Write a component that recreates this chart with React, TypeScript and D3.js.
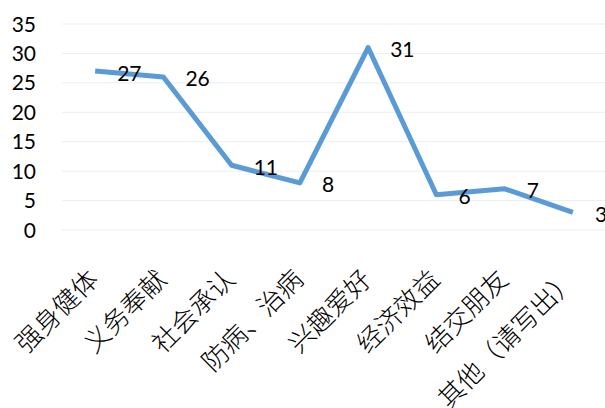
import React from 'react';
import * as d3 from 'd3';

const categories = ['强身健体', '义务奉献', '社会承认', '防病、治病', '兴趣爱好', '经济效益', '结交朋友', '其他（请写出）'];
const counts = [27, 26, 11, 8, 31, 6, 7, 3];
const yTicks = [0, 5, 10, 15, 20, 25, 30, 35];

const width = 605;
const height = 408;

const App = () => {
    const x = d3.scalePoint<string>()
        .domain(categories)
        .range([61, 607])
        .padding(0.5);
    const y = d3.scaleLinear()
        .domain([0, 35])
        .range([230, 24]);

    const line = d3.line<number>()
        .x((d, i) => x(categories[i])!)
        .y(d => y(d));

    const numFont = 'Lato, "Liberation Sans", sans-serif';

    return (
        <div style={{position: 'fixed', left: 0, top: 0}}>
            <svg width={width} height={height} style={{display: 'block', background: '#fff'}}>
                {/* grid lines */}
                <g>
                    {yTicks.map(t => (
                        <line key={t} x1={62} x2={width} y1={y(t)} y2={y(t)} stroke="#ededed" strokeWidth={1}/>
                    ))}
                </g>
                {/* y tick labels */}
                <g fontFamily={numFont} fontSize={21} fill="#000" textAnchor="end">
                    {yTicks.map(t => (
                        <text key={t} x={36} y={y(t)} dy="0.36em">{t}</text>
                    ))}
                </g>
                {/* x labels, rotated */}
                <g fontFamily='"Noto Sans CJK SC", sans-serif' fontSize={26} fontWeight={300} fill="#000" textAnchor="end">
                    {categories.map(c => (
                        <text key={c} transform={`translate(${x(c)! + 5},${281}) rotate(-45)`}>{c}</text>
                    ))}
                </g>
                <path d={line(counts)!} fill="none" stroke="#5B9BD5" strokeWidth={5} strokeLinejoin="round"/>
                {/* value labels */}
                <g fontFamily={numFont} fontSize={21} fill="#000">
                    {counts.map((v, i) => (
                        <text key={i} x={x(categories[i])! + 22} y={y(v)} dy="0.45em">{v}</text>
                    ))}
                </g>
            </svg>
        </div>
    );
};

export default App;
